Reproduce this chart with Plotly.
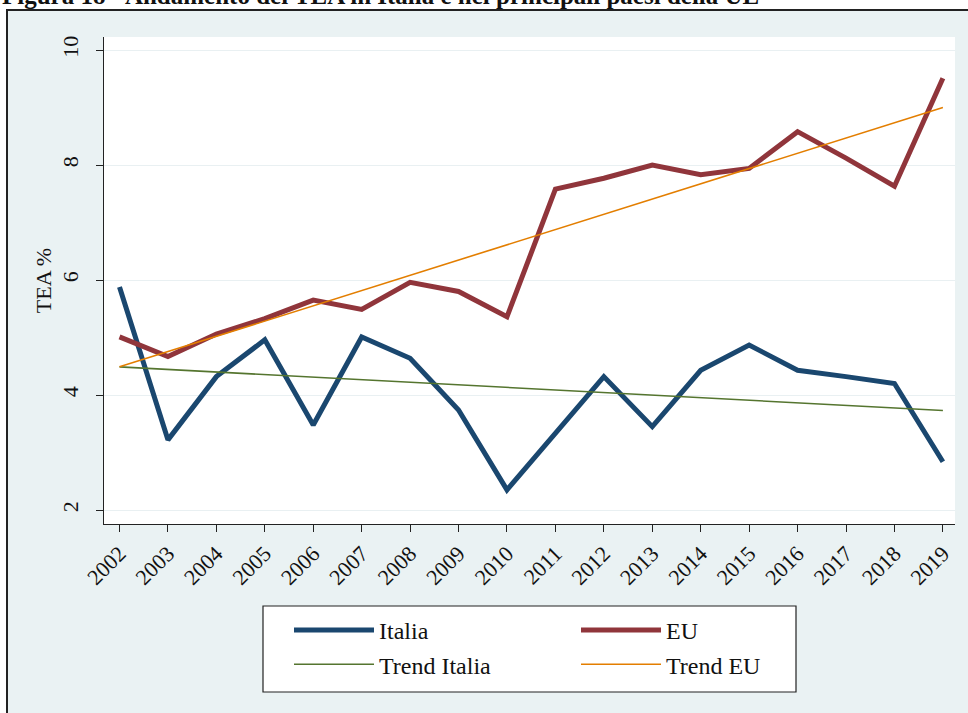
import plotly.graph_objects as go

years = [2002, 2003, 2004, 2005, 2006, 2007, 2008, 2009, 2010,
         2011, 2012, 2013, 2014, 2015, 2016, 2017, 2018, 2019]
italia = [5.88, 3.22, 4.32, 4.96, 3.48, 5.01, 4.64, 3.74, 2.35,
          3.34, 4.32, 3.45, 4.43, 4.87, 4.43, 4.32, 4.20, 2.84]
eu = [5.01, 4.67, 5.06, 5.33, 5.65, 5.49, 5.96, 5.80, 5.36,
      7.58, 7.77, 8.00, 7.83, 7.94, 8.58, 8.12, 7.63, 9.51]
trend_years = [2002, 2019]
trend_italia = [4.49, 3.73]
trend_eu = [4.49, 9.00]
y_ticks = [2, 4, 6, 8, 10]
title_text = "Figura 18 - Andamento del TEA in Italia e nei principali paesi della UE"

W, H = 968, 713
ML, MR, MT, MB = 104, 13, 37, 189
PW, PH = W - ML - MR, H - MT - MB


def X(px):
    return (px - ML) / PW


def Y(py):
    return (H - MB - py) / PH


SERIF = "Liberation Serif"

fig = go.Figure()
fig.add_trace(go.Scatter(x=years, y=italia, mode="lines", name="Italia",
                         line=dict(color="#1a476f", width=5),
                         legend="legend", legendgroup="a"))
fig.add_trace(go.Scatter(x=years, y=eu, mode="lines", name="EU",
                         line=dict(color="#90353b", width=5),
                         legend="legend2", legendgroup="b"))
fig.add_trace(go.Scatter(x=trend_years, y=trend_italia, mode="lines", name="Trend Italia",
                         line=dict(color="#55752f", width=1.6),
                         legend="legend", legendgroup="c"))
fig.add_trace(go.Scatter(x=trend_years, y=trend_eu, mode="lines", name="Trend EU",
                         line=dict(color="#e37e00", width=1.6),
                         legend="legend2", legendgroup="d"))

shapes = [
    # white strip above the frame
    dict(type="rect", xref="paper", yref="paper", x0=X(-20), x1=X(1000), y0=Y(10), y1=Y(-20),
         fillcolor="white", line=dict(width=0), layer="below"),
    # white strip left of the frame
    dict(type="rect", xref="paper", yref="paper", x0=X(-20), x1=X(7), y0=Y(740), y1=Y(-20),
         fillcolor="white", line=dict(width=0), layer="below"),
    # frame border
    dict(type="rect", xref="paper", yref="paper", x0=X(7), x1=X(1000), y0=Y(740), y1=Y(10),
         fillcolor="rgba(0,0,0,0)", line=dict(color="#222222", width=2), layer="below"),
    # legend box
    dict(type="rect", xref="paper", yref="paper", x0=X(263), x1=X(796), y0=Y(692), y1=Y(606),
         fillcolor="white", line=dict(color="#222222", width=1.2), layer="below"),
]

legend_common = dict(orientation="v", bgcolor="rgba(0,0,0,0)", borderwidth=0,
                     font=dict(family=SERIF, size=24, color="#111111"),
                     itemwidth=80, tracegroupgap=0, xanchor="left", yanchor="top",
                     xref="paper", yref="paper")

fig.update_layout(
    width=W, height=H,
    margin=dict(l=ML, r=MR, t=MT, b=MB, pad=0),
    paper_bgcolor="#eaf2f3",
    plot_bgcolor="white",
    font=dict(family=SERIF, size=22, color="#111111"),
    showlegend=True,
    legend=dict(x=X(289), y=Y(608), **legend_common),
    legend2=dict(x=X(576), y=Y(608), **legend_common),
    shapes=shapes,
    annotations=[dict(text="<b>" + title_text + "</b>", xref="paper", yref="paper",
                      x=X(0), y=Y(11), xanchor="left", yanchor="bottom", showarrow=False,
                      font=dict(family=SERIF, size=25, color="#111111"))],
    xaxis=dict(range=[2001.68, 2019.25], tickmode="array", tickvals=years,
               ticktext=[str(y) for y in years], tickangle=-45,
               ticks="outside", ticklen=7, tickcolor="#222222", showline=True,
               linecolor="#222222", linewidth=1, showgrid=False, zeroline=False,
               tickfont=dict(family=SERIF, size=22, color="#111111")),
    yaxis=dict(range=[1.757, 10.226], tickmode="array", tickvals=y_ticks,
               ticktext=[str(v) for v in y_ticks], tickangle=-90,
               ticks="outside", ticklen=7, tickcolor="#222222", showline=True,
               linecolor="#222222", linewidth=1, showgrid=True, gridcolor="#e9f0f2",
               gridwidth=1, zeroline=False, ticklabelstandoff=9,
               tickfont=dict(family=SERIF, size=22, color="#111111"),
               title=dict(text="TEA %", font=dict(family=SERIF, size=22, color="#111111"),
                          standoff=0)),
)

fig.write_html("out.html", config={"displayModeBar": False},
               post_script="document.body.style.margin='0';document.body.style.overflow='hidden';")
